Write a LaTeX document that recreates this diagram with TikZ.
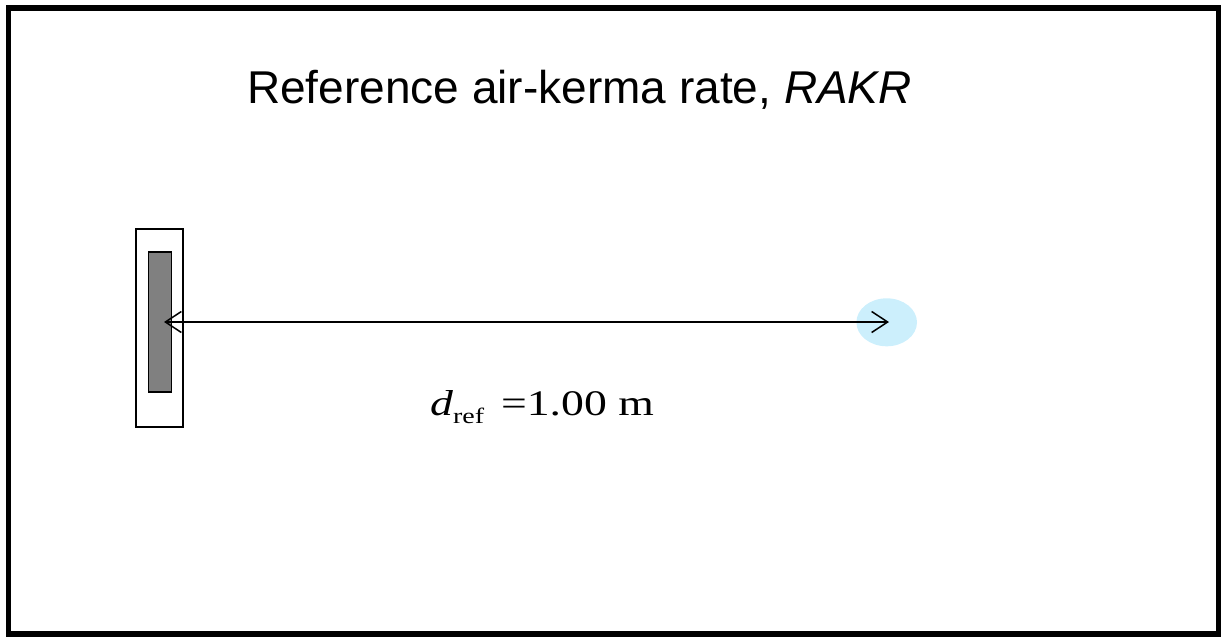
\documentclass[tikz,border=0pt]{standalone}
\usetikzlibrary{shapes.geometric,arrows.meta}
\usepackage{fontspec}
\setmainfont{Liberation Serif}
\newfontfamily\arialfont{Liberation Sans}
\begin{document}
\begin{tikzpicture}[x=1pt,y=-1pt,
  frame/.style={draw=black,line width=5.5pt},
  holder/.style={draw=black,line width=1.3pt,fill=white},
  core/.style={draw=black,line width=1.3pt,fill=gray},
  point/.style={fill=cyan!20,draw=none},
  dist/.style={draw=black,line width=1.5pt,{Straight Barb[length=16pt,width=21pt,line width=1.5pt]}-{Straight Barb[length=16pt,width=21pt,line width=1.5pt]}}]
\useasboundingbox (0,0) rectangle (1231,637);
\draw[frame] (8.5,8) rectangle (1218.5,634);
\node[anchor=base west,inner sep=0pt,font=\arialfont\fontsize{46}{52}\selectfont] (title) at (247,103) {Reference air-kerma rate, \textit{RAKR}};
\node[holder,minimum width=47pt,minimum height=198pt,inner sep=0pt] (holder) at (159.5,328) {};
\node[core,minimum width=23.5pt,minimum height=140pt,inner sep=0pt] (core) at (160,322) {};
\node[point,ellipse,minimum width=60.6pt,minimum height=48pt,inner sep=0pt] (pt) at (886.7,322.3) {};
\coordinate (a) at (164,322);
\coordinate (b) at (889,322);
\draw[dist] (a) -- (b);
\node[anchor=base west,inner sep=0pt,font=\fontsize{36}{40}\selectfont] (lbl) at (430,415) {\scalebox{1.27}[1]{\textit{d}\raisebox{-8pt}{\fontsize{22}{24}\selectfont ref}\hspace{0.37em}=1.00 m}};
\end{tikzpicture}
\end{document}
